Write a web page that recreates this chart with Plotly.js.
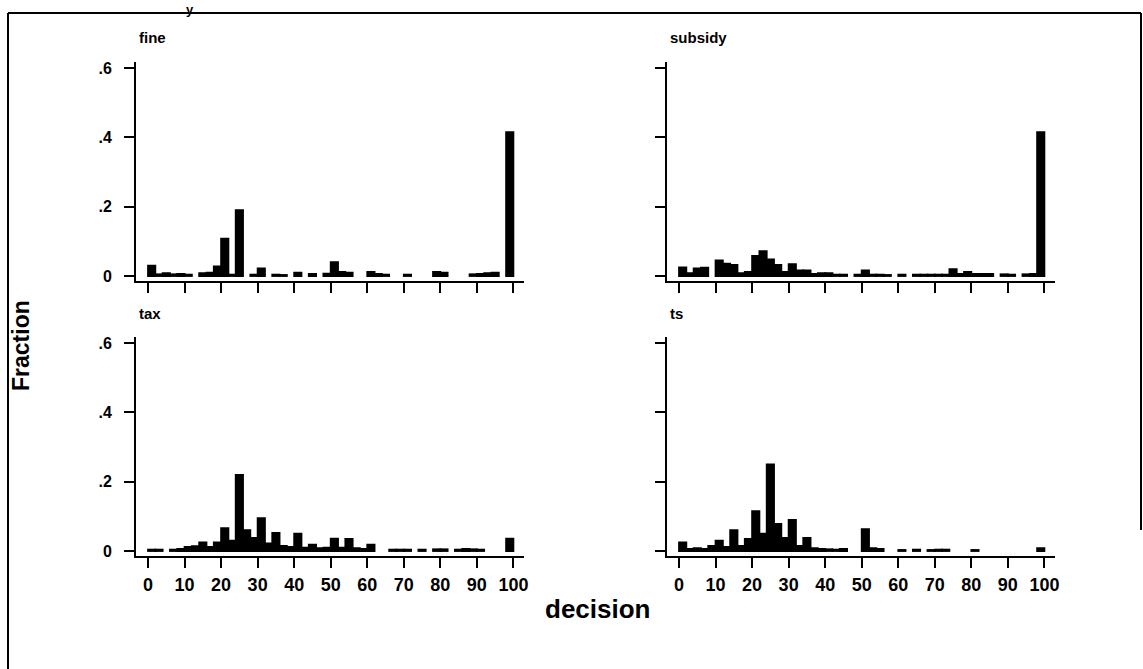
<!DOCTYPE html>
<html>
<head>
<meta charset="utf-8">
<script src="https://cdn.plot.ly/plotly-3.0.1.min.js"></script>
<style>html,body{margin:0;padding:0;background:#fff}#chart{width:1143px;height:669px}</style>
</head>
<body>
<div id="chart"></div>
<script>
// ---- data (fraction of decisions per bin of width 2) ----
const binCenters = [1,3,5,7,9,11,13,15,17,19,21,23,25,27,29,31,33,35,37,39,41,43,45,47,49,
                    51,53,55,57,59,61,63,65,67,69,71,73,75,77,79,81,83,85,87,89,91,93,95,97,99];
const binWidth = 2;
const panelNames = ['fine', 'subsidy', 'tax', 'ts'];

const fineVals = [0.030,0.005,0.008,0.005,0.006,0.004,null,0.008,0.010,0.028,
                  0.108,0.004,0.190,null,0.004,0.022,null,0.004,0.003,null,
                  0.010,null,0.006,null,0.007,0.040,0.012,0.010,null,null,
                  0.012,0.006,0.004,null,null,0.004,null,null,null,0.012,
                  0.010,null,null,null,0.005,0.006,0.008,0.010,null,0.415];

const subsidyVals = [0.025,0.008,0.022,0.024,null,0.045,0.036,0.032,0.008,0.012,
                     0.058,0.072,0.048,0.032,0.012,0.034,0.016,0.016,0.006,0.008,
                     0.008,0.004,0.004,null,0.004,0.016,0.004,0.004,0.003,null,
                     0.004,null,0.004,0.004,0.004,0.004,0.004,0.020,0.006,0.012,
                     0.006,0.006,0.006,null,0.005,0.004,null,0.005,0.006,0.415];

const taxVals = [0.004,0.004,null,0.004,0.006,0.012,0.014,0.025,0.012,0.025,
                 0.066,0.030,0.220,0.060,0.038,0.095,0.022,0.052,0.015,0.012,
                 0.050,0.010,0.018,0.008,0.010,0.036,0.010,0.035,0.008,0.006,
                 0.018,null,null,0.004,0.004,0.004,null,0.004,null,0.005,
                 0.005,null,0.004,0.006,0.005,0.004,null,null,null,0.036];

const tsVals = [0.025,0.006,0.008,0.006,0.015,0.030,0.012,0.060,0.015,0.035,
                0.115,0.050,0.250,0.078,0.038,0.090,0.015,0.038,0.008,0.006,
                0.005,0.004,0.006,null,null,0.063,0.008,0.006,null,null,
                0.003,null,0.004,null,0.003,0.004,0.004,null,null,null,
                0.003,null,null,null,null,null,null,null,null,0.008];

const xTickVals = [0,10,20,30,40,50,60,70,80,90,100];
const xTickText = ['0','10','20','30','40','50','60','70','80','90','100'];
const yTickVals = [0,0.2,0.4,0.6];
const yTickText = ['0','.2','.4','.6'];
const xTitle = 'decision';
const yTitle = 'Fraction';

// ---- layout geometry (pixels) ----
const W = 1143, H = 669;
const FONT = 'Liberation Sans, Arial, sans-serif';
const boxes = [
  {x0:136, x1:524,  y0:62,  y1:281, xi:'', labelsX:false, labelsY:true},
  {x0:667, x1:1055, y0:62,  y1:281, xi:'2', labelsX:false, labelsY:false},
  {x0:136, x1:524,  y0:337, y1:556, xi:'3', labelsX:true, labelsY:true},
  {x0:667, x1:1055, y0:337, y1:556, xi:'4', labelsX:true, labelsY:false}
];
const series = [fineVals, subsidyVals, taxVals, tsVals];

const traces = series.map((vals, k) => ({
  type: 'bar',
  x: binCenters,
  y: vals,
  width: binWidth,
  xaxis: 'x' + boxes[k].xi,
  yaxis: 'y' + boxes[k].xi,
  marker: {color: '#000', line: {color: '#000', width: 1.8}},
  showlegend: false,
  hoverinfo: 'x+y'
}));

const layout = {
  width: W, height: H,
  margin: {l:0, r:0, t:0, b:0},
  paper_bgcolor: '#fff', plot_bgcolor: '#fff',
  showlegend: false,
  bargap: 0,
  font: {family: FONT, color: '#000'},
  annotations: [],
  shapes: [
    {type:'line', xref:'paper', yref:'paper', x0:8/W, x1:1141/W, y0:1-13/H, y1:1-13/H, line:{color:'#000', width:2}},
    {type:'line', xref:'paper', yref:'paper', x0:8/W, x1:8/W, y0:1-13/H, y1:0, line:{color:'#000', width:2}},
    {type:'line', xref:'paper', yref:'paper', x0:1141/W, x1:1141/W, y0:1-13/H, y1:1-530/H, line:{color:'#000', width:2}}
  ]
};

boxes.forEach((b, k) => {
  const xa = 'xaxis' + b.xi, ya = 'yaxis' + b.xi;
  layout[xa] = {
    domain: [b.x0/W, b.x1/W],
    anchor: 'y' + b.xi,
    range: [-3.29, 102.9],
    showline: true, linecolor: '#000', linewidth: 2,
    showgrid: false, zeroline: false,
    ticks: 'outside', ticklen: 10, tickwidth: 2, tickcolor: '#000',
    tickmode: 'array', tickvals: xTickVals, ticktext: xTickText,
    showticklabels: b.labelsX,
    ticklabelstandoff: 1,
    tickfont: {family: FONT, size: 18, weight: 'bold', color: '#000'},
    fixedrange: true
  };
  layout[ya] = {
    domain: [1 - b.y1/H, 1 - b.y0/H],
    anchor: 'x' + b.xi,
    range: [-0.0144, 0.6176],
    showline: true, linecolor: '#000', linewidth: 2,
    showgrid: false, zeroline: false,
    ticks: 'outside', ticklen: 10, tickwidth: 2, tickcolor: '#000',
    tickmode: 'array', tickvals: yTickVals, ticktext: yTickText,
    showticklabels: b.labelsY,
    ticklabelstandoff: 9,
    tickfont: {family: FONT, size: 16, weight: 'bold', color: '#000'},
    fixedrange: true
  };
  layout.annotations.push({
    text: panelNames[k], xref: 'paper', yref: 'paper',
    x: (b.x0 + 1)/W, y: 1 - (b.y0 - 24)/H,
    xanchor: 'left', yanchor: 'middle', showarrow: false,
    font: {family: FONT, size: 15, weight: 'bold', color: '#000'}
  });
});

layout.annotations.push({
  text: xTitle, xref:'paper', yref:'paper', x: 597/W, y: 1 - 609/H,
  xanchor:'center', yanchor:'middle', showarrow:false,
  font:{family: FONT, size: 26, weight:'bold', color:'#000'}
});
layout.annotations.push({
  text: yTitle, xref:'paper', yref:'paper', x: 21/W, y: 1 - 346/H,
  xanchor:'center', yanchor:'middle', showarrow:false, textangle: -90,
  font:{family: FONT, size: 23, weight:'bold', color:'#000'}
});
layout.annotations.push({
  text: 'y', xref:'paper', yref:'paper', x: 190/W, y: 1,
  xanchor:'center', yanchor:'top', showarrow:false,
  font:{family: FONT, size: 13, weight:'bold', color:'#000'}
});

Plotly.newPlot('chart', traces, layout, {displayModeBar: false, staticPlot: true});
</script>
</body>
</html>
